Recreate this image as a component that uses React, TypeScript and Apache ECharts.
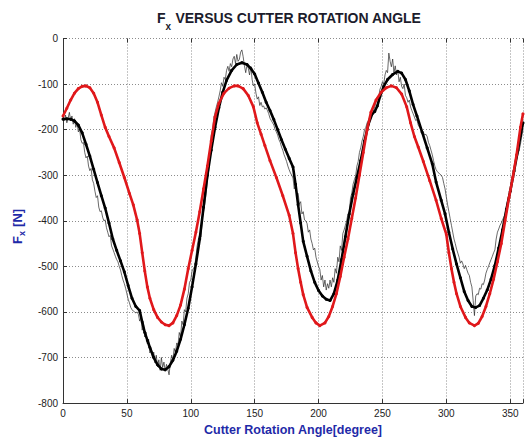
import React, { useEffect, useRef } from "react";
import * as echarts from "echarts";

// Simulated force (red dotted curve) [angle, Fx]
const simulatedFx: [number, number][] = [
  [0,-170],[3,-153],[6,-135],[9,-120],[12,-110],[15,-105],[18,-104],[21,-108],[24,-120],[27,-140],[30,-168],[33,-195],[36,-215],[40,-240],[44,-272],[48,-305],[52,-340],[55,-365],[58,-398],[60,-428],[62,-470],[64,-510],[66,-545],[68,-570],[71,-595],[74,-612],[77,-622],[80,-628],[83,-630],[86,-624],[89,-608],[92,-585],[95,-550],[98,-505],[101,-465],[104,-425],[107,-380],[110,-330],[113,-280],[116,-225],[119,-172],[122,-142],[126,-120],[130,-109],[134,-104],[137,-104],[141,-110],[145,-125],[149,-150],[152,-185],[155,-210],[158,-235],[162,-268],[167,-305],[172,-345],[177,-388],[180,-428],[182,-470],[184,-505],[186,-535],[188,-562],[191,-590],[195,-612],[198,-624],[201,-630],[205,-624],[208,-610],[211,-588],[214,-560],[217,-522],[220,-480],[223,-440],[226,-395],[229,-350],[232,-300],[235,-250],[238,-200],[241,-162],[245,-135],[249,-118],[253,-108],[257,-104],[261,-108],[265,-122],[269,-150],[272,-185],[275,-215],[278,-238],[282,-270],[287,-312],[292,-355],[296,-395],[300,-430],[302,-470],[304,-505],[306,-535],[308,-560],[311,-588],[315,-612],[318,-624],[322,-630],[325,-625],[328,-610],[331,-588],[334,-560],[337,-528],[340,-490],[343,-450],[346,-400],[349,-350],[352,-305],[355,-255],[358,-195],[360,-165]
];

// Smoothed measured force (thick black curve)
const smoothedFx: [number, number][] = [
  [0,-177],[3,-176],[6,-177],[9,-181],[12,-190],[15,-207],[18,-232],[21,-258],[24,-287],[27,-316],[30,-345],[33,-372],[36,-405],[39,-440],[42,-465],[45,-488],[48,-512],[51,-542],[54,-570],[57,-588],[60,-597],[62,-622],[64,-645],[66,-662],[68,-678],[71,-700],[74,-716],[77,-725],[80,-727],[83,-720],[86,-706],[89,-686],[92,-660],[95,-628],[98,-592],[101,-545],[104,-495],[107,-440],[110,-370],[113,-300],[116,-245],[119,-195],[122,-152],[125,-118],[128,-92],[132,-70],[136,-57],[140,-53],[144,-57],[147,-66],[150,-78],[153,-98],[156,-118],[159,-140],[162,-158],[165,-178],[168,-200],[171,-222],[174,-243],[177,-263],[180,-282],[182,-320],[184,-365],[186,-405],[188,-445],[191,-478],[194,-510],[197,-535],[200,-553],[203,-565],[206,-572],[209,-575],[212,-560],[215,-530],[218,-485],[221,-435],[224,-385],[227,-342],[230,-305],[233,-268],[236,-225],[239,-188],[242,-165],[244,-160],[246,-148],[248,-128],[251,-105],[254,-90],[258,-79],[262,-72],[265,-76],[268,-90],[271,-115],[274,-145],[277,-170],[281,-205],[285,-240],[289,-275],[292,-315],[296,-355],[299,-385],[302,-425],[305,-462],[308,-495],[311,-525],[314,-555],[317,-575],[320,-588],[323,-590],[326,-586],[329,-570],[332,-552],[335,-528],[338,-498],[341,-460],[344,-420],[347,-375],[350,-335],[353,-291],[356,-245],[358,-214],[360,-185]
];

// Raw measured force (thin noisy black curve)
const measuredFx: [number, number][] = [
  [0,-172],[1,-180],[2,-168],[3,-185],[4,-175],[5,-162],[6,-180],[7,-170],[8,-188],[9,-176],[10,-195],[11,-185],[12,-205],[13,-198],[14,-222],[15,-230],[16,-228],[17,-250],[18,-262],[19,-258],[20,-280],[21,-290],[22,-285],[23,-310],[24,-318],[25,-335],[26,-349],[27,-345],[28,-370],[29,-380],[30,-378],[31,-392],[32,-400],[33,-398],[34,-415],[35,-425],[36,-435],[37,-432],[38,-455],[39,-462],[40,-470],[41,-478],[42,-485],[43,-490],[44,-500],[45,-508],[46,-520],[47,-530],[48,-538],[49,-548],[50,-560],[51,-572],[52,-580],[53,-590],[54,-595],[55,-598],[56,-600],[57,-602],[58,-600],[59,-605],[60,-620],[61,-612],[62,-640],[63,-625],[64,-655],[65,-645],[66,-670],[67,-660],[68,-690],[69,-680],[70,-700],[71,-688],[72,-712],[73,-695],[74,-720],[75,-705],[76,-728],[77,-700],[78,-722],[79,-710],[80,-730],[81,-715],[82,-725],[83,-738],[84,-712],[85,-695],[86,-705],[87,-680],[88,-690],[89,-668],[90,-672],[91,-645],[92,-655],[93,-620],[94,-628],[95,-595],[96,-600],[97,-570],[98,-560],[99,-535],[100,-530],[101,-510],[102,-505],[103,-500],[104,-480],[105,-455],[106,-440],[107,-430],[108,-435],[109,-395],[110,-380],[111,-363],[112,-340],[113,-312],[114,-290],[115,-255],[116,-212],[117,-200],[118,-175],[119,-162],[120,-150],[121,-140],[122,-128],[123,-115],[124,-97],[125,-105],[126,-85],[127,-90],[128,-70],[129,-61],[130,-72],[131,-55],[132,-62],[133,-45],[134,-39],[135,-55],[136,-35],[137,-50],[138,-46],[139,-30],[140,-25],[141,-40],[142,-60],[143,-75],[144,-58],[145,-65],[146,-80],[147,-61],[148,-90],[149,-104],[150,-100],[151,-120],[152,-133],[153,-128],[154,-147],[155,-140],[156,-150],[157,-148],[158,-155],[159,-152],[160,-158],[161,-165],[162,-175],[163,-180],[164,-185],[165,-190],[166,-200],[167,-205],[168,-212],[169,-222],[170,-228],[171,-238],[172,-245],[173,-255],[174,-262],[175,-270],[176,-280],[177,-288],[178,-295],[179,-300],[180,-306],[181,-330],[182,-318],[183,-345],[184,-340],[185,-363],[186,-358],[187,-385],[188,-380],[189,-398],[190,-400],[191,-406],[192,-425],[193,-420],[194,-440],[195,-450],[196,-464],[197,-460],[198,-480],[199,-490],[200,-500],[201,-507],[202,-530],[203,-520],[204,-545],[205,-530],[206,-552],[207,-538],[208,-548],[209,-530],[210,-545],[211,-525],[212,-535],[213,-505],[214,-515],[215,-480],[216,-490],[217,-455],[218,-465],[219,-428],[220,-420],[221,-410],[222,-400],[223,-385],[224,-385],[225,-350],[226,-340],[227,-320],[228,-310],[229,-302],[230,-280],[231,-270],[232,-250],[233,-240],[234,-225],[235,-215],[236,-200],[237,-195],[238,-185],[239,-180],[240,-172],[241,-165],[242,-170],[243,-158],[244,-150],[245,-138],[246,-128],[247,-130],[248,-112],[249,-105],[250,-95],[251,-100],[252,-80],[253,-70],[254,-75],[255,-32],[256,-50],[257,-62],[258,-45],[259,-75],[260,-60],[261,-80],[262,-70],[263,-95],[264,-85],[265,-105],[266,-110],[267,-100],[268,-125],[269,-130],[270,-140],[271,-135],[272,-150],[273,-158],[274,-165],[275,-172],[276,-180],[277,-178],[278,-190],[279,-195],[280,-200],[281,-208],[282,-205],[283,-212],[284,-210],[285,-215],[286,-228],[287,-235],[288,-245],[289,-255],[290,-268],[291,-280],[292,-288],[293,-292],[294,-295],[295,-298],[296,-300],[297,-305],[298,-318],[299,-330],[300,-348],[301,-365],[302,-380],[303,-395],[304,-410],[305,-425],[306,-440],[307,-450],[308,-462],[309,-471],[310,-480],[311,-493],[312,-488],[313,-495],[314,-505],[315,-498],[316,-507],[317,-515],[318,-520],[319,-535],[320,-545],[321,-575],[322,-608],[323,-565],[324,-560],[325,-562],[326,-548],[327,-550],[328,-538],[329,-540],[330,-530],[331,-515],[332,-507],[333,-500],[334,-492],[335,-485],[336,-478],[337,-470],[338,-464],[339,-440],[340,-425],[341,-418],[342,-410],[343,-405],[344,-398],[345,-392],[346,-385],[347,-370],[348,-355],[349,-345],[350,-334],[351,-320],[352,-305],[353,-290],[354,-277],[355,-265],[356,-255],[357,-245],[358,-232],[359,-215],[360,-200]
];

const X_TICK_LABELS = [0, 50, 100, 150, 200, 250, 300, 350];

const TITLE_MAIN = "F";
const TITLE_SUB = "x";
const TITLE_REST = " VERSUS CUTTER ROTATION ANGLE";
const X_NAME = "Cutter Rotation Angle[degree]";
const Y_NAME_MAIN = "F";
const Y_NAME_SUB = "x";
const Y_NAME_REST = " [N]";

const FONT = "'Liberation Sans', Arial, Helvetica, sans-serif";
const BLUE = "#1f2aa8";
const RED = "#e0181b";

export default function App() {
  const ref = useRef<HTMLDivElement>(null);
  useEffect(() => {
    document.body.style.margin = "0";
    const chart = echarts.init(ref.current!, null, { renderer: "svg" });
    const gridLine = { show: true, lineStyle: { color: "#8c8c8c", type: [1, 2], width: 1 } };
    chart.setOption({
      animation: false,
      backgroundColor: "#ffffff",
      grid: { left: 63, top: 38.5, width: 466, height: 370.5, containLabel: false },
      xAxis: [
        {
          type: "value",
          min: 0,
          max: 360,
          interval: 50,
          axisLine: { show: true, onZero: false, lineStyle: { color: "#333", width: 1 } },
          axisTick: { show: true, inside: true, length: 4, lineStyle: { color: "#333" } },
          axisLabel: {
            fontSize: 10,
            color: "#222",
            margin: 5,
            fontFamily: FONT,
            formatter: (v: number) => (X_TICK_LABELS.indexOf(v) >= 0 ? String(v) : ""),
          },
          splitLine: gridLine,
          name: X_NAME,
          nameLocation: "middle",
          nameGap: 17,
          nameTextStyle: { color: BLUE, fontWeight: "bold", fontSize: 12.5, fontFamily: FONT },
        },
        {
          type: "value",
          position: "top",
          min: 0,
          max: 360,
          interval: 50,
          axisLine: { show: false },
          axisTick: { show: true, inside: true, length: 4, lineStyle: { color: "#333" } },
          axisLabel: { show: false },
          splitLine: { show: false },
        },
      ],
      yAxis: {
        type: "value",
        min: -800,
        max: 0,
        interval: 100,
        axisLine: { show: true, onZero: false, lineStyle: { color: "#333", width: 1 } },
        axisTick: { show: true, inside: true, length: 4, lineStyle: { color: "#333" } },
        axisLabel: { fontSize: 10, color: "#222", margin: 5, fontFamily: FONT },
        splitLine: gridLine,
      },
      graphic: [
        { type: "text", left: 157, top: 11, style: { text: TITLE_MAIN, font: `bold 14px ${FONT}`, fill: "#1c1c2c" } },
        { type: "text", left: 165.5, top: 21, style: { text: TITLE_SUB, font: `bold 10px ${FONT}`, fill: "#1c1c2c" } },
        { type: "text", left: 171.5, top: 11, style: { text: TITLE_REST, font: `bold 14px ${FONT}`, fill: "#1c1c2c" } },
        {
          type: "group",
          x: 17,
          y: 244,
          rotation: Math.PI / 2,
          children: [
            { type: "text", x: 0, y: 0, style: { text: Y_NAME_MAIN, font: `bold 13px ${FONT}`, fill: BLUE, verticalAlign: "middle", align: "left" } },
            { type: "text", x: 8, y: 4.5, style: { text: Y_NAME_SUB, font: `bold 9px ${FONT}`, fill: BLUE, verticalAlign: "middle", align: "left" } },
            { type: "text", x: 13.5, y: 0, style: { text: Y_NAME_REST, font: `bold 13px ${FONT}`, fill: BLUE, verticalAlign: "middle", align: "left" } },
          ],
        },
      ],
      series: [
        {
          type: "line",
          name: "measured",
          data: measuredFx,
          showSymbol: false,
          lineStyle: { color: "#2a2a2a", width: 0.7 },
          z: 1,
        },
        {
          type: "line",
          name: "smoothed",
          data: smoothedFx,
          symbol: "circle",
          symbolSize: 3,
          showAllSymbol: true,
          itemStyle: { color: "#000" },
          lineStyle: { color: "#000", width: 2.6 },
          z: 2,
        },
        {
          type: "line",
          name: "simulated",
          data: simulatedFx,
          symbol: "circle",
          symbolSize: 3,
          showAllSymbol: true,
          itemStyle: { color: RED },
          lineStyle: { color: RED, width: 2.6 },
          z: 3,
        },
      ],
    });
    return () => chart.dispose();
  }, []);
  return <div ref={ref} style={{ position: "absolute", left: 0, top: 0, width: 526, height: 441 }} />;
}
